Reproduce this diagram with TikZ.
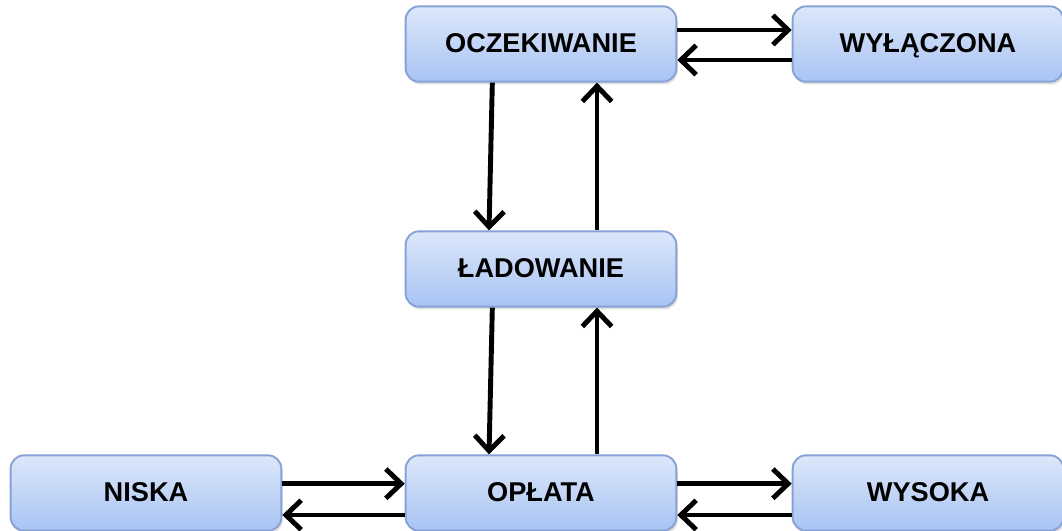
\documentclass[tikz,border=0pt]{standalone}
\usepackage{fontspec}
\setmainfont{Liberation Sans}
\usetikzlibrary{arrows.meta,shadows}
\definecolor{boxtop}{HTML}{DCE7FA}
\definecolor{boxbottom}{HTML}{A9C3F3}
\definecolor{boxedge}{HTML}{86A2D4}

\begin{document}
\begin{tikzpicture}[
        x=0.015cm, y=-0.015cm,
        every node/.append style={draw=boxedge, line width=0.8pt, rounded corners=2mm,
            top color=boxtop, bottom color=boxbottom,
            minimum width=4.06cm, minimum height=1.13cm,
            text height=1.6ex, text depth=0.3ex,
            drop shadow={shadow xshift=0.6pt, shadow yshift=-1.2pt, opacity=0.25},
            font=\bfseries\fontsize{11.6}{13}\selectfont},
        flow/.style={line width=2.1pt, -{Straight Barb[length=2.3mm, width=4.4mm]}}
    ]
        \useasboundingbox (0,0) rectangle (1062,531);
        \node (O) at (541, 44)  {OCZEKIWANIE};
        \node (W) at (928, 44)  {WYŁĄCZONA};
        \node (L) at (541, 269) {ŁADOWANIE};
        \node (N) at (146, 493) {NISKA};
        \node (P) at (541, 493) {OPŁATA};
        \node (S) at (928, 493) {WYSOKA};
        \draw[flow] ([yshift=2.1mm]O.east) -- ([yshift=2.1mm]W.west);
        \draw[flow] ([yshift=-2.4mm]W.west) -- ([yshift=-2.4mm]O.east);
        \draw[flow] ([xshift=-7.3mm]O.south) -- ([xshift=-7.8mm]L.north);
        \draw[flow] ([xshift=8.4mm]L.north) -- ([xshift=8.4mm]O.south);
        \draw[flow] ([xshift=-7.3mm]L.south) -- ([xshift=-7.8mm]P.north);
        \draw[flow] ([xshift=8.4mm]P.north) -- ([xshift=8.4mm]L.south);
        \draw[flow] ([yshift=1.4mm]N.east) -- ([yshift=1.4mm]P.west);
        \draw[flow] ([yshift=-3.3mm]P.west) -- ([yshift=-3.3mm]N.east);
        \draw[flow] ([yshift=1.4mm]P.east) -- ([yshift=1.4mm]S.west);
        \draw[flow] ([yshift=-3.3mm]S.west) -- ([yshift=-3.3mm]P.east);
    \end{tikzpicture}
\end{document}
